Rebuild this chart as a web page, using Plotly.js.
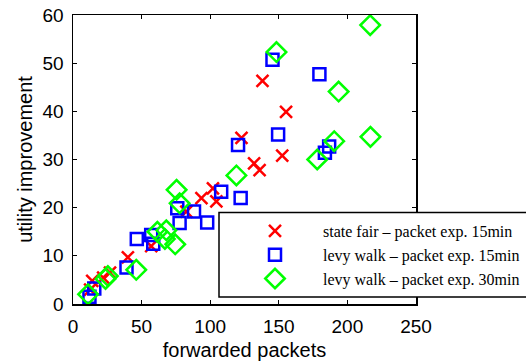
<!DOCTYPE html>
<html><head><meta charset="utf-8">
<script src="https://cdn.plot.ly/plotly-3.0.1.min.js"></script>
<style>html,body{margin:0;padding:0;background:#fff}</style>
</head><body><div id="chart" style="width:526px;height:362px"></div>
<script>
const seriesNames = ["state fair \u2013 packet exp. 15min", "levy walk \u2013 packet exp. 15min", "levy walk \u2013 packet exp. 30min"];
const stateFairX = [12.5, 14, 22, 27, 40, 57, 82.6, 93.6, 102, 104.5, 122.8, 132, 136, 138.1, 152.5, 155.3];
const stateFairY = [3, 4.8, 5.5, 6.5, 9.7, 12, 19.2, 22, 24, 21.3, 34.5, 29.2, 27.8, 46.3, 30.8, 39.9];
const levy15X = [12, 15.5, 39, 46.5, 57, 58.5, 76, 77.7, 88.2, 97.8, 108, 120.3, 122.2, 145.4, 149.5, 179.6, 183.6, 186.7];
const levy15Y = [1.5, 3.2, 7.6, 13.5, 14.3, 12.5, 19.9, 16.8, 19.2, 16.9, 23.3, 33, 22, 50.7, 35.2, 47.7, 31.4, 32.7];
const levy30X = [11, 23.7, 25.4, 46.1, 61.5, 68, 67, 74.5, 75.5, 77.7, 119.1, 148.3, 178, 190.4, 193.6, 216.6, 216.8];
const levy30Y = [2, 5.2, 5.8, 7.1, 15, 15.3, 13.5, 12.4, 23.7, 20.9, 26.7, 52.3, 30, 33.8, 44.1, 57.9, 34.7];
const xTicks = [0, 50, 100, 150, 200, 250];
const yTicks = [0, 10, 20, 30, 40, 50, 60];

const traces = [
  {x: stateFairX, y: stateFairY, name: seriesNames[0], legendgroup: 'a', type: 'scatter', mode: 'markers',
   marker: {symbol: 'x-thin-open', size: 12, color: '#ff0000', line: {color: '#ff0000', width: 2.5}}},
  {x: levy15X, y: levy15Y, name: seriesNames[1], legendgroup: 'b', type: 'scatter', mode: 'markers',
   marker: {symbol: 'square-open', size: 12, color: '#0000ff', line: {color: '#0000ff', width: 2.5}}},
  {x: levy30X, y: levy30Y, name: seriesNames[2], legendgroup: 'c', type: 'scatter', mode: 'markers',
   marker: {symbol: 'diamond-open', size: 15, color: '#00ff00', line: {color: '#00ff00', width: 2.5}}}
];

const L = 73, R = 110, T = 15, B = 58;
const W = 526 - L - R, H = 362 - T - B;
const px = v => (v - L) / W;
const py = v => (362 - B - v) / H;

const axisFont = {family: 'Liberation Sans, Arial, sans-serif', size: 19, color: '#000'};
const layout = {
  width: 526, height: 362,
  margin: {l: L, r: R, t: T, b: B, autoexpand: false},
  paper_bgcolor: '#fff', plot_bgcolor: '#fff',
  showlegend: true,
  xaxis: {range: [0, 250], tickvals: xTicks, ticktext: xTicks.map(String), ticks: 'inside', ticklen: 4, tickwidth: 1,
    tickcolor: '#000', showline: true, linecolor: '#000', linewidth: 1.5, mirror: 'ticks', showgrid: false, zeroline: false,
    tickfont: axisFont, ticklabelstandoff: 5,
    title: {text: 'forwarded packets', font: {family: 'Liberation Sans, Arial, sans-serif', size: 20, color: '#000'}, standoff: 6}},
  yaxis: {range: [0, 60], tickvals: yTicks, ticktext: yTicks.map(String), ticks: 'inside', ticklen: 4, tickwidth: 1,
    tickcolor: '#000', showline: true, linecolor: '#000', linewidth: 1.5, mirror: 'ticks', showgrid: false, zeroline: false,
    tickfont: axisFont, ticklabelstandoff: 4,
    title: {text: 'utility improvement', font: {family: 'Liberation Sans, Arial, sans-serif', size: 20, color: '#000'}, standoff: 4}},
  shapes: [{type: 'rect', xref: 'paper', yref: 'paper', x0: px(219), x1: px(535), y0: py(297), y1: py(212.5),
    fillcolor: '#fff', line: {color: '#000', width: 1.5}, layer: 'above'}],
  legend: {x: px(227), y: py(214), xanchor: 'left', yanchor: 'top', bgcolor: 'rgba(0,0,0,0)', borderwidth: 0,
    itemwidth: 86, traceorder: 'grouped', tracegroupgap: 0,
    font: {family: 'Liberation Serif, Times New Roman, serif', size: 16, color: '#000'}}
};
Plotly.newPlot('chart', traces, layout, {displayModeBar: false, staticPlot: true});
</script></body></html>
